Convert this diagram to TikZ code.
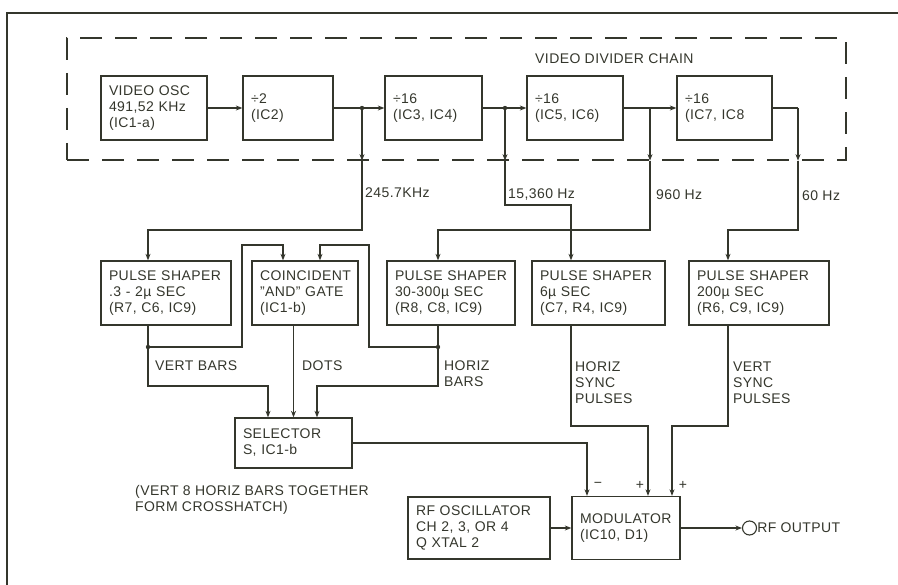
\documentclass[tikz,border=0pt]{standalone}
\usepackage{fontspec}
\setmainfont{Liberation Sans}[LetterSpace=3]
\usetikzlibrary{arrows.meta}

\definecolor{ink}{RGB}{52,54,44}
\newcommand\blkfont{\fontsize{14}{16}\selectfont}

\tikzset{
  blk/.style={draw=ink, line width=1.3pt, align=left, inner xsep=8pt,
    inner ysep=2pt, minimum height=64pt, text width=#1, text=ink, font=\blkfont},
  chainbox/.style={draw=ink, line width=1.3pt, dash pattern=on 22pt off 13pt},
  arr/.style={draw=ink, line width=1.1pt, -{Stealth[length=6.5pt,width=5pt]}},
  wire/.style={draw=ink, line width=1.1pt},
  lbl/.style={inner sep=0pt, text=ink, font=\blkfont, align=left}
}

\begin{document}
\begin{tikzpicture}[x=1pt,y=-1pt]
\useasboundingbox (0,0) rectangle (898,585);

% Frame
\draw[ink,line width=1.8pt] (7,585) -- (7,13) -- (898,13);

% Divider chain
\node[chainbox,minimum width=779pt,minimum height=122pt] (chain) at (456.5,99) {};
\node[lbl,anchor=west] (chainlbl) at (535,59) {VIDEO DIVIDER CHAIN};
\node[blk=90pt] (osc)  at (154,108)   {VIDEO OSC\\491,52 KHz\\(IC1-a)};
\node[blk=74pt] (div2) at (288,108)   {÷2\\(IC2)};
\node[blk=81pt] (d16a) at (433.5,108) {÷16\\(IC3, IC4)};
\node[blk=80pt] (d16b) at (575,108)   {÷16\\(IC5, IC6)};
\node[blk=79pt] (d16c) at (724.5,108) {÷16\\(IC7, IC8};

% Pulse shapers and gate
\node[blk=114pt] (ps1)  at (166,293)   {PULSE~SHAPER\\.3 - 2µ SEC\\(R7, C6, IC9)};
\node[blk=90pt]  (gate) at (305,293)   {COINCIDENT\\"AND" GATE\\(IC1-b)};
\node[blk=112pt] (ps3)  at (451,293)   {PULSE~SHAPER\\30-300µ SEC\\(R8, C8, IC9)};
\node[blk=117pt] (ps4)  at (598.5,293) {PULSE~SHAPER\\6µ SEC\\(C7, R4, IC9)};
\node[blk=124pt] (ps5)  at (759,293)   {PULSE~SHAPER\\200µ SEC\\(R6, C9, IC9)};

% Selector, oscillator, modulator
\node[blk=101pt,minimum height=50pt] (sel) at (293.5,443) {SELECTOR\\S, IC1-b};
\node[blk=126pt,minimum height=62pt] (rf)  at (479,528)   {RF OSCILLATOR\\CH 2, 3, OR 4\\Q XTAL 2};
\node[blk=92pt,minimum height=63pt]  (mod) at (626,528)   {MODULATOR\\(IC10, D1)};
\node[draw=ink,circle,line width=1.1pt,minimum size=14pt,inner sep=0pt] (out) at (749.5,528) {};
\node[lbl,anchor=west] (outlbl) at (out.east) {RF OUTPUT};

% Taps and bends
\coordinate (j1) at (362,108);
\coordinate (j2) at (505,108);
\coordinate (j3) at (650,108);
\coordinate (j4) at (798,108);
\coordinate (b1) at (148,230);
\coordinate (b2) at (571,205);
\coordinate (b3) at (438,230);
\coordinate (b4) at (728,230);
\coordinate (v1) at (148,347);
\coordinate (v3) at (438,347);
\coordinate (g1) at (283,245);
\coordinate (g2) at (320,245);
\coordinate (vb) at (268,386);
\coordinate (hb) at (317,386);
\coordinate (hs) at (648,426);
\coordinate (vs) at (672,426);
\coordinate (sm) at (587,443);

% Chain connections
\draw[arr] (osc) -- (div2);
\draw[arr] (div2) -- (d16a);
\draw[arr] (d16a) -- (d16b);
\draw[arr] (d16b) -- (d16c);
\draw[wire] (d16c.east |- j4) -- (j4);
\fill[ink] (j1) circle (2.2pt);
\fill[ink] (j2) circle (2.2pt);
\foreach \j in {j1,j2,j3,j4}
  \draw[arr] (\j) -- (\j |- chain.south);

% Frequency outputs
\draw[arr] (j1 |- chain.south) |- (b1) -- (b1 |- ps1.north);
\draw[arr] (j2 |- chain.south) |- (b2) -- (b2 |- ps4.north);
\draw[arr] (j3 |- chain.south) |- (b3) -- (b3 |- ps3.north);
\draw[arr] (j4 |- chain.south) |- (b4) -- (b4 |- ps5.north);
\node[lbl,anchor=west] (f1) at (365,193) {245.7KHz};
\node[lbl,anchor=west] (f2) at (508,195) {15,360 Hz};
\node[lbl,anchor=west] (f3) at (656,195) {960 Hz};
\node[lbl,anchor=west] (f4) at (802,196) {60 Hz};

% Gate inputs
\fill[ink] (v1) circle (2.2pt);
\fill[ink] (v3) circle (2.2pt);
\draw[arr] (v1) -| (242,245) -- (g1) -- (g1 |- gate.north);
\draw[arr] (v3) -| (369,245) -- (g2) -- (g2 |- gate.north);

% Selector inputs
\draw[arr] (v1 |- ps1.south) |- (vb) -- (vb |- sel.north);
\draw[arr] (sel.north |- gate.south) -- (sel.north);
\draw[arr] (v3 |- ps3.south) |- (hb) -- (hb |- sel.north);
\node[lbl,anchor=west] (vbars) at (155,366) {VERT BARS};
\node[lbl,anchor=west] (dots) at (302,366) {DOTS};
\node[lbl,anchor=north west] (hbars) at (444,361) {HORIZ\\BARS};
\node[lbl,anchor=north west] (note) at (135,485) {(VERT 8 HORIZ BARS TOGETHER\\FORM CROSSHATCH)};

% Modulator inputs
\draw[arr] (sel.east) -| (sm |- mod.north);
\draw[arr] (b2 |- ps4.south) |- (hs) -- (hs |- mod.north);
\draw[arr] (b4 |- ps5.south) |- (vs) -- (vs |- mod.north);
\draw[arr] (rf) -- (mod);
\draw[arr] (mod) -- (out);
\node[lbl,anchor=north west] (hsync) at (575,362) {HORIZ\\SYNC\\PULSES};
\node[lbl,anchor=north west] (vsync) at (733,362) {VERT\\SYNC\\PULSES};
\node[lbl] (mneg) at (598,485) {−};
\node[lbl] (pls1) at (640,485) {+};
\node[lbl] (pls2) at (683,485) {+};

\end{tikzpicture}
\end{document}
